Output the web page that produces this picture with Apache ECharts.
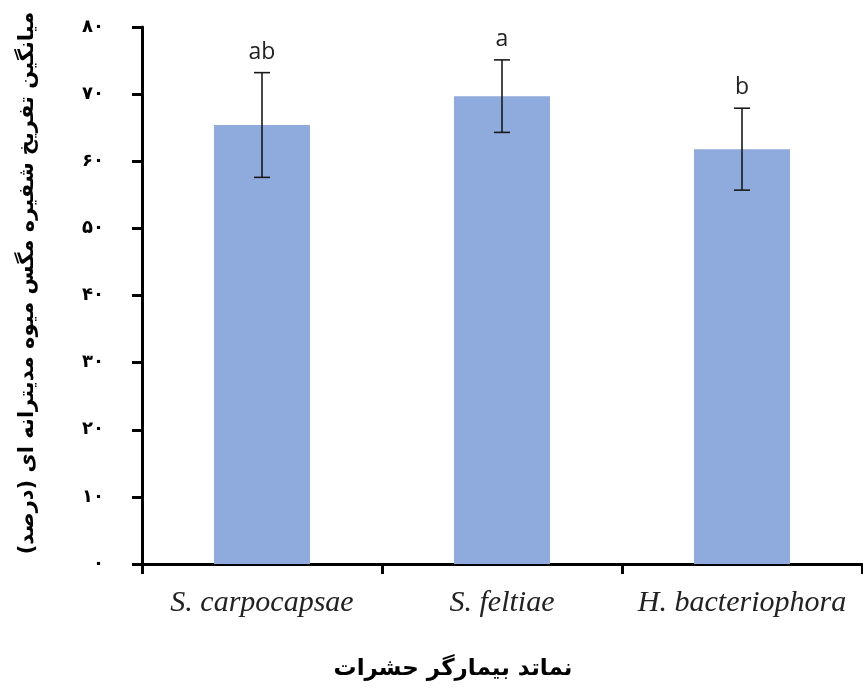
<!DOCTYPE html>
<html>
<head>
<meta charset="utf-8">
<script src="https://cdn.jsdelivr.net/npm/echarts@6/dist/echarts.min.js"></script>
<style>
html,body{margin:0;padding:0;background:#fff;}
#chart{width:863px;height:689px;}
</style>
</head>
<body>
<div id="chart"></div>
<script>
// Data
const categories = ['S. carpocapsae', 'S. feltiae', 'H. bacteriophora'];
const means = [65.4, 69.7, 61.8];
const errors = [7.8, 5.4, 6.1];
const letters = ['ab', 'a', 'b'];
const yTickLabels = ['۰', '۱۰', '۲۰', '۳۰', '۴۰', '۵۰', '۶۰', '۷۰', '۸۰'];
const yTitle = 'میانگین تفریخ شفیره مگس میوه مدیترانه ای (درصد)';
const xTitle = 'نماتد بیمارگر حشرات';

const chart = echarts.init(document.getElementById('chart'));

const errData = categories.map((c, i) => [i, means[i] - errors[i], means[i] + errors[i], letters[i]]);

const option = {
  animation: false,
  backgroundColor: '#ffffff',
  grid: { left: 142, right: 1, top: 27, bottom: 125, containLabel: false },
  title: {
    text: xTitle,
    left: 448,
    top: 653,
    textAlign: 'center',
    textStyle: { fontFamily: 'DejaVu Sans', fontWeight: 'bold', fontSize: 23, color: '#000' }
  },
  graphic: [{
    type: 'text',
    x: 28, y: 283,
    rotation: Math.PI / 2,
    style: {
      text: yTitle,
      font: 'bold 21px "DejaVu Sans"',
      fill: '#000',
      align: 'center',
      verticalAlign: 'middle'
    }
  }],
  xAxis: {
    type: 'category',
    data: categories,
    axisLine: { lineStyle: { color: '#000', width: 3 } },
    axisTick: { show: true, interval: 0, length: 10, lineStyle: { color: '#000', width: 3 } },
    axisLabel: {
      interval: 0,
      hideOverlap: false,
      margin: 24,
      fontFamily: 'Liberation Serif',
      fontStyle: 'italic',
      fontSize: 30,
      color: '#222'
    }
  },
  yAxis: {
    type: 'value',
    min: 0, max: 80, interval: 10,
    splitLine: { show: false },
    axisLine: { show: true, lineStyle: { color: '#000', width: 3 } },
    axisTick: { show: true, length: 10, lineStyle: { color: '#000', width: 3 } },
    axisLabel: {
      margin: 38,
      fontFamily: 'DejaVu Sans',
      fontWeight: 'bold',
      fontSize: 18,
      color: '#000',
      formatter: v => yTickLabels[Math.round(v / 10)]
    }
  },
  series: [{
    type: 'bar',
    data: means,
    barWidth: '40%',
    itemStyle: { color: '#8FAADC' },
    z: 2
  }, {
    type: 'custom',
    data: errData,
    z: 5,
    renderItem: function (params, api) {
      const x = api.value(0);
      const lo = api.coord([x, api.value(1)]);
      const hi = api.coord([x, api.value(2)]);
      const half = 8;
      const st = { stroke: '#1a1a1a', lineWidth: 1.6 };
      return {
        type: 'group',
        children: [
          { type: 'line', shape: { x1: hi[0], y1: hi[1], x2: lo[0], y2: lo[1] }, style: st },
          { type: 'line', shape: { x1: hi[0] - half, y1: hi[1], x2: hi[0] + half, y2: hi[1] }, style: st },
          { type: 'line', shape: { x1: lo[0] - half, y1: lo[1], x2: lo[0] + half, y2: lo[1] }, style: st },
          { type: 'text', x: hi[0], y: hi[1] - 9, style: {
              text: api.value(3), fill: '#222', font: '23px "Open Sans"',
              align: 'center', verticalAlign: 'bottom' } }
        ]
      };
    }
  }]
};
chart.setOption(option);
</script>
</body>
</html>
